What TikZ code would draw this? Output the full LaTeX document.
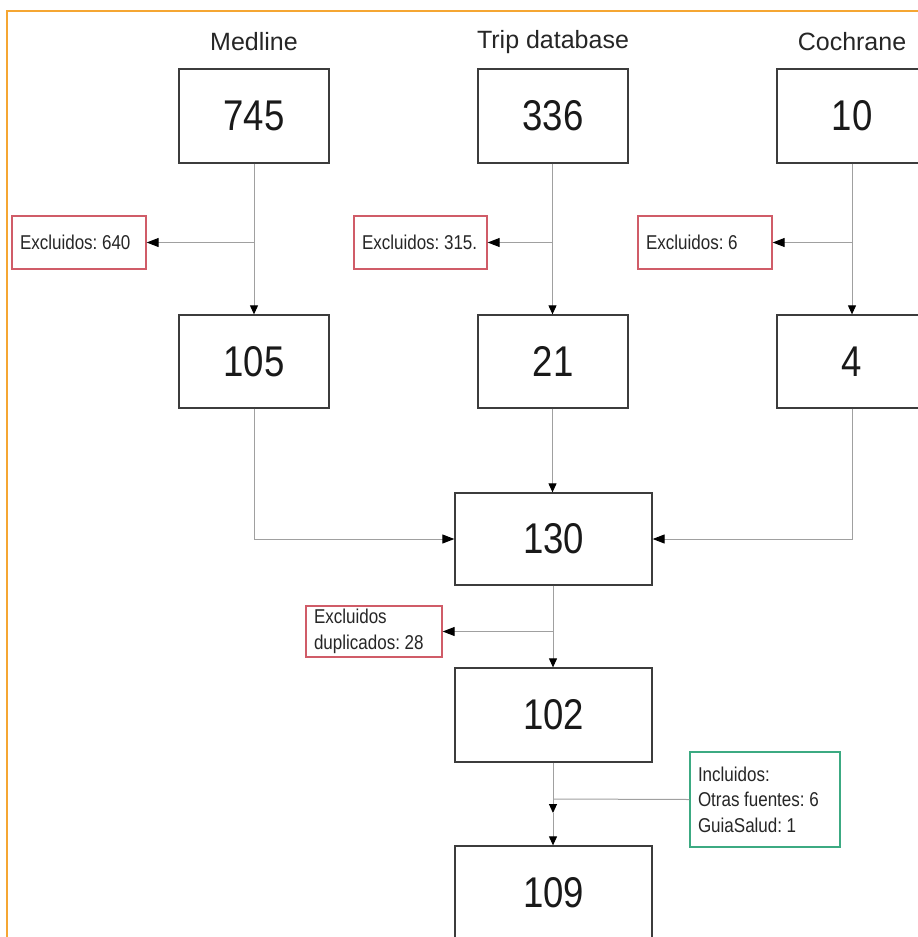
\documentclass[tikz,border=0pt]{standalone}
\usepackage{fontspec}
\setmainfont{Liberation Sans}
\newfontfamily\narrowf[FakeStretch=0.85]{Liberation Sans}
\newcommand\exfont{\narrowf\fontsize{20}{25.5}\selectfont}
\newcommand\exspace{\spaceskip=4.6pt plus 1pt minus 1pt\relax\xspaceskip=4.6pt\relax}
\usetikzlibrary{arrows.meta}
\definecolor{frameor}{RGB}{245,166,50}
\definecolor{boxgray}{RGB}{60,60,60}
\definecolor{linegray}{RGB}{160,160,160}
\definecolor{exred}{RGB}{208,92,104}
\definecolor{incgreen}{RGB}{60,170,130}
\tikzset{
  numbox/.style={draw=boxgray, line width=1.3pt, fill=white, inner sep=0pt,
    minimum width=150pt, minimum height=94pt,
    font=\narrowf\fontsize{43}{48}\selectfont, text=black!90},
  bigbox/.style={numbox, minimum width=197pt},
  srclabel/.style={inner sep=0pt, font=\fontsize{25}{28}\selectfont, text=black!85},
  exbox/.style={draw=exred, line width=1.3pt, fill=white, inner xsep=8pt, inner ysep=0pt,
    align=left, font=\exfont, execute at begin node=\exspace, text=black!85},
  incbox/.style={exbox, draw=incgreen},
  conn/.style={draw=linegray, line width=1pt},
  harr/.style={conn, -{Triangle[length=12pt,width=9pt,color=black]}},
  varr/.style={conn, -{Triangle[length=9pt,width=8pt,color=black]}}
}
\begin{document}
\begin{tikzpicture}[x=1pt,y=-1pt]
\useasboundingbox (0,0) rectangle (918,937);
\clip (0,0) rectangle (918,937);
\fill[white] (0,0) rectangle (918,937);
\draw[frameor, line width=1.6pt] (7,960) -- (7,11) -- (940,11);

% source labels
\node[srclabel] (lm) at (254,42) {Medline};
\node[srclabel] (lt) at (553,42) {Trip database};
\node[srclabel] (lc) at (852,42) {Cochrane};

% first row
\node[numbox] (m745) at (254,116) {745};
\node[numbox] (t336) at (553,116) {336};
\node[numbox] (c10) at (852,116) {10};

% excluded
\node[exbox, text width=118pt, minimum height=53pt] (ex640) at (79,242.5) {Excluidos: 640};
\node[exbox, text width=117pt, minimum height=53pt] (ex315) at (420.5,242.5) {Excluidos: 315.};
\node[exbox, text width=118pt, minimum height=53pt] (ex6) at (705,242.5) {Excluidos: 6};

% second row
\node[numbox, minimum height=93pt] (m105) at (254,361.5) {105};
\node[numbox, minimum height=93pt] (t21) at (553,361.5) {21};
\node[numbox, minimum height=93pt] (c4) at (852,361.5) {4};

\node[bigbox, minimum height=92pt] (n130) at (553.5,539) {130};
\node[exbox, text width=120pt, minimum height=51pt] (exdup) at (374,631.5) {Excluidos\\duplicados: 28};
\node[bigbox] (n102) at (553.5,715) {102};
\node[incbox, text width=134pt, minimum height=95pt] (inc) at (765,799.5) {Incluidos:\\Otras fuentes: 6\\GuiaSalud: 1};
\node[bigbox] (n109) at (553.5,893) {109};

% connectors row 1
\draw[varr] (m745.south) -- (m105.north);
\draw[harr] (m745.south |- ex640.east) -- (ex640.east);
\draw[varr] ([xshift=-0.5pt]t336.south) -- ([xshift=-0.5pt]t21.north);
\draw[harr] ([xshift=-0.5pt]t336.south |- ex315.east) -- (ex315.east);
\draw[varr] (c10.south) -- (c4.north);
\draw[harr] (c10.south |- ex6.east) -- (ex6.east);

% to 130
\draw[harr] (m105.south) |- (n130.west);
\draw[varr] ([xshift=-0.5pt]t21.south) -- ([xshift=-1pt]n130.north);
\draw[harr] (c4.south) |- (n130.east);

% 130 -> 102
\draw[varr] ([xshift=-0.5pt]n130.south) -- ([xshift=-0.5pt]n102.north);
\draw[harr] ([xshift=-0.5pt]n130.south |- exdup.east) -- (exdup.east);

% 102 -> 109
\coordinate (j) at (553,813);
\draw[conn] (inc.west) -- (553,799);
\draw[varr] ([xshift=-0.5pt]n102.south) -- (j);
\draw[varr] (j) -- ([xshift=-0.5pt]n109.north);
\end{tikzpicture}
\end{document}
